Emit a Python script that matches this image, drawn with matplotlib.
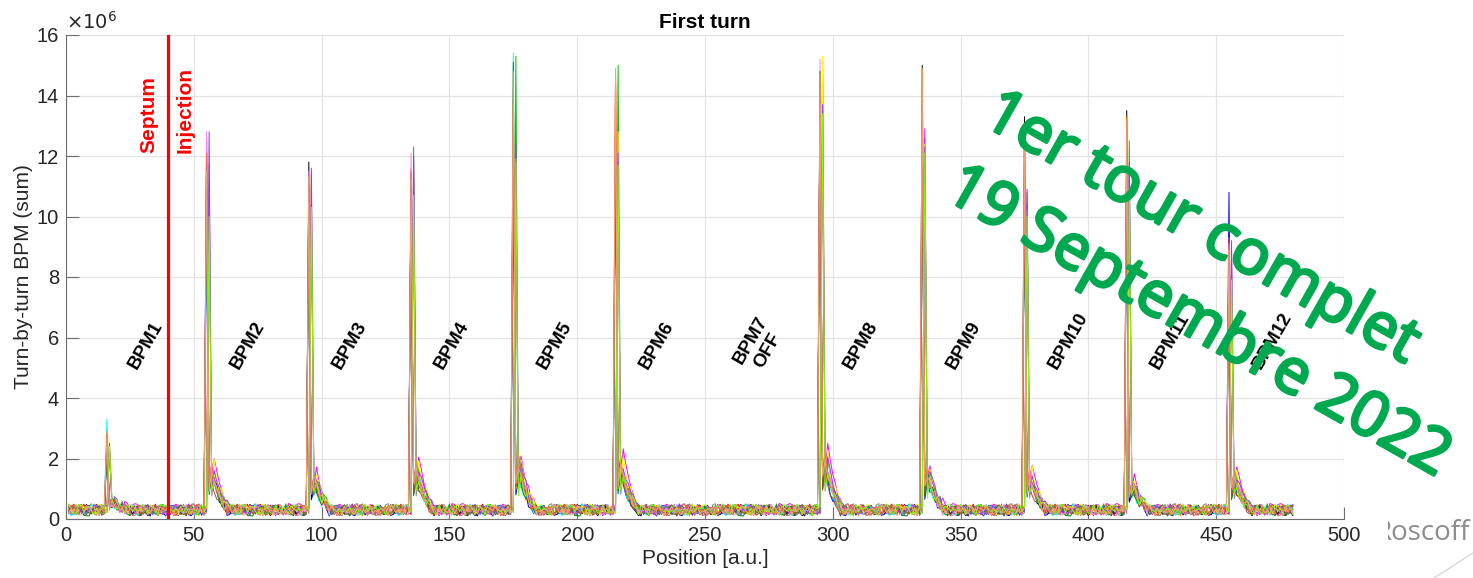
import numpy as np
import matplotlib
matplotlib.use("Agg")
import matplotlib.pyplot as plt
import matplotlib.patheffects as pe
from matplotlib.lines import Line2D
from matplotlib.transforms import Bbox

# ---------------------------------------------------------------- data
n_points = 480                      # samples per turn-by-turn record
bpm_names = ["BPM1", "BPM2", "BPM3", "BPM4", "BPM5", "BPM6", "BPM7\nOFF",
             "BPM8", "BPM9", "BPM10", "BPM11", "BPM12"]
bpm_label_x = [26, 66, 106, 146, 186, 226, 266, 306, 346, 386, 426, 466]

# sample index of the signal of each active BPM (BPM7 is switched off)
peak_pos = [16, 55, 95, 135, 175, 215, 295, 335, 375, 415, 455]

trace_colors = ["#ff0000", "#00c000", "#0000ff", "#000000", "#ff00ff",
                "#00ffff", "#ffff00", "#ff8000", "#ff80ff", "#909090",
                "#008000", "#8040ff", "#a0522d", "#ff6060", "#80ff00",
                "#f4a070"]

# peak sum signal (x1e6) of each record at each active BPM
peak_heights = [
    [2.6, 11.8, 10.9, 11.1, 12.9, 14.8, 14.3, 13.2, 11.4, 12.0, 9.4],
    [2.4, 10.5, 11.4, 12.3, 15.3, 15.0, 14.9, 12.6, 10.8, 12.5, 8.8],
    [2.2, 9.8, 10.1, 11.4, 11.5, 12.0, 13.5, 12.0, 10.5, 11.2, 10.8],
    [2.5, 12.5, 11.8, 10.8, 12.2, 12.3, 14.0, 15.0, 13.3, 13.5, 8.7],
    [2.3, 11.7, 11.6, 12.0, 12.0, 12.5, 15.1, 12.9, 10.9, 11.8, 9.2],
    [3.3, 10.2, 10.6, 11.3, 15.4, 13.2, 13.9, 12.2, 10.7, 11.5, 8.5],
    [2.7, 12.0, 10.2, 10.6, 11.8, 12.8, 15.3, 12.4, 10.2, 11.0, 8.2],
    [2.9, 12.2, 11.2, 11.6, 14.2, 14.6, 14.6, 14.8, 12.8, 13.3, 9.0],
    [2.4, 12.8, 11.5, 12.1, 13.0, 12.4, 15.2, 12.7, 11.0, 11.6, 9.1],
    [2.2, 11.0, 9.8, 10.4, 11.2, 11.8, 13.2, 11.8, 10.1, 10.8, 8.0],
    [2.3, 10.8, 11.0, 11.0, 15.1, 12.9, 14.8, 12.5, 10.6, 12.2, 8.6],
    [2.5, 12.8, 10.4, 11.8, 12.4, 12.1, 13.7, 12.3, 10.4, 11.4, 8.3],
    [2.6, 11.2, 10.7, 10.9, 12.6, 12.2, 14.1, 11.9, 10.3, 11.1, 8.4],
    [2.8, 12.1, 11.1, 11.5, 13.8, 14.4, 14.5, 13.0, 11.2, 12.4, 9.3],
    [2.4, 10.0, 10.3, 10.7, 11.9, 11.7, 13.4, 12.1, 10.0, 10.9, 7.9],
    [2.7, 11.5, 11.3, 11.2, 14.8, 14.9, 14.7, 14.9, 12.9, 13.2, 8.9],
]
peak_shift = [0, 1, 0, 0, 1, 0, 1, 0, 0, 1, 0, 1, 0, 0, 1, 0]

# trailing bump after each BPM signal (x1e6 above the noise floor)
tail_amp = [0.3, 1.5, 1.2, 1.5, 1.7, 1.7, 1.9, 1.4, 1.3, 1.0, 1.2]
tail_scale = [1.0, 0.8, 0.7, 0.9, 1.1, 0.75, 1.0, 0.85, 0.95, 0.6, 0.8,
              0.9, 0.7, 1.0, 0.65, 0.9]
tail_shape = [0.55, 1.0, 0.7, 0.5, 0.35, 0.22, 0.12]

# noise floor of each record (x1e6)
base_level = [0.30, 0.31, 0.28, 0.29, 0.32, 0.30, 0.31, 0.29, 0.30, 0.32,
              0.28, 0.31, 0.30, 0.29, 0.31, 0.30]
jitter = [0.07, -0.10, 0.15, -0.03, -0.16, 0.08, 0.19, -0.07, 0.02, -0.13,
          0.11, 0.05, -0.18, 0.10, -0.02, 0.16, -0.08, 0.03, -0.15, 0.13,
          0.00, -0.11, 0.17, -0.05, 0.08, -0.17, 0.05, 0.14, -0.10, 0.02,
          -0.03, 0.11, -0.14, 0.06, 0.19, -0.08, 0.03, -0.16, 0.10, -0.05,
          0.13, -0.11, 0.00, 0.16, -0.06, 0.08, -0.18, 0.05, 0.11, -0.02,
          -0.13, 0.14, 0.02, -0.10, 0.17, -0.03, 0.06, -0.14, 0.10, -0.08,
          0.03, 0.13, -0.17, 0.05]
jitter_stride = [1, 3, 5, 7, 9, 11, 13, 15, 17, 19, 21, 23, 25, 27, 29, 31]
jitter_offset = [0, 7, 14, 21, 28, 35, 42, 49, 56, 63, 6, 13, 20, 27, 34, 41]

septum_x = 40

# ---------------------------------------------------------------- records
position = np.arange(1, n_points + 1)
jit = np.array(jitter)
records = []
for k in range(len(trace_colors)):
    idx = (np.arange(n_points) * jitter_stride[k] + jitter_offset[k]) % len(jit)
    y = base_level[k] + jit[idx]
    for j, c in enumerate(peak_pos):
        i = c - 1 + peak_shift[k]
        y[i] = peak_heights[k][j]
        for m, s in enumerate(tail_shape):
            if i + 1 + m < n_points:
                y[i + 1 + m] += tail_amp[j] * tail_scale[k] * s
    records.append(y)

# ---------------------------------------------------------------- figure
plt.rcParams["font.family"] = ["Liberation Sans", "DejaVu Sans"]
W, H = 1473, 578
fig = plt.figure(figsize=(W / 100, H / 100), dpi=100)
ax = fig.add_axes([66 / W, 1 - 519 / H, (1344 - 66) / W, (519 - 35) / H])

for y, col in zip(records, trace_colors):
    ax.plot(position, y, color=col, lw=0.7)

ax.set_xlim(0, 500)
ax.set_ylim(0, 16)
ax.set_xticks(np.arange(0, 501, 50))
ax.set_yticks(np.arange(0, 17, 2))
ax.grid(True, color="#e3e3e3", lw=0.9)
ax.set_axisbelow(True)
for s in ("top", "right"):
    ax.spines[s].set_visible(False)
for s in ("left", "bottom"):
    ax.spines[s].set_color("#6e6e6e")
    ax.spines[s].set_linewidth(0.8)
ax.tick_params(direction="in", length=9, width=0.8, color="#6e6e6e",
               labelsize=14.5, labelcolor="#262626", pad=5)

ax.set_xlabel("Position [a.u.]", fontsize=15, color="#262626", labelpad=3)
ax.set_ylabel("Turn-by-turn BPM (sum)", fontsize=15, color="#262626",
              labelpad=3)
ax.set_title("First turn", fontsize=15, fontweight="bold", pad=5)
ax.text(0.0, 1.004, r"$\times10^{6}$", transform=ax.transAxes, fontsize=14,
        color="#262626", ha="left", va="bottom")

# injection septum
ax.axvline(septum_x, color="#ff0000", lw=2.3, zorder=5)
ax.text(32.5, 12.1, "Septum", rotation=90, color="#ff0000", fontsize=15,
        fontweight="bold", ha="center", va="bottom")
ax.text(46.6, 12.1, "Injection", rotation=90, color="#ff0000", fontsize=15,
        fontweight="bold", ha="center", va="bottom")

for name, x in zip(bpm_names, bpm_label_x):
    ax.text(x, 5.0, name, rotation=60, rotation_mode="anchor", ha="left",
            va="center", multialignment="center", fontsize=13.5,
            fontweight="bold", color="black", zorder=6)

# milestone annotation
green = "#00a94f"
for txt, px, py in (("1er tour complet", 980, 123),
                    ("19 Septembre 2022", 942, 197)):
    fig.text(px / W, 1 - py / H, txt, rotation=-29.5, rotation_mode="anchor",
             ha="left", va="baseline", fontsize=45, color=green,
             family=["Open Sans", "DejaVu Sans"], fontweight="normal",
             zorder=10,
             path_effects=[pe.withStroke(linewidth=2.2, foreground=green)])

# site mark in the lower right corner
t = fig.text(1470 / W, 1 - 540 / H, "Roscoff", ha="right", va="baseline",
             fontsize=20, color="#8c8c8c", family=["Open Sans", "DejaVu Sans"])
t.set_clip_box(Bbox.from_extents(1388, 0, W, H))
t.set_clip_on(True)
fig.add_artist(Line2D([1434 / W, 1.0], [0.0, 1 - 553 / H], color="#d8d8d8",
                      lw=1.0, transform=fig.transFigure))

fig.savefig("out.png", dpi=100)
